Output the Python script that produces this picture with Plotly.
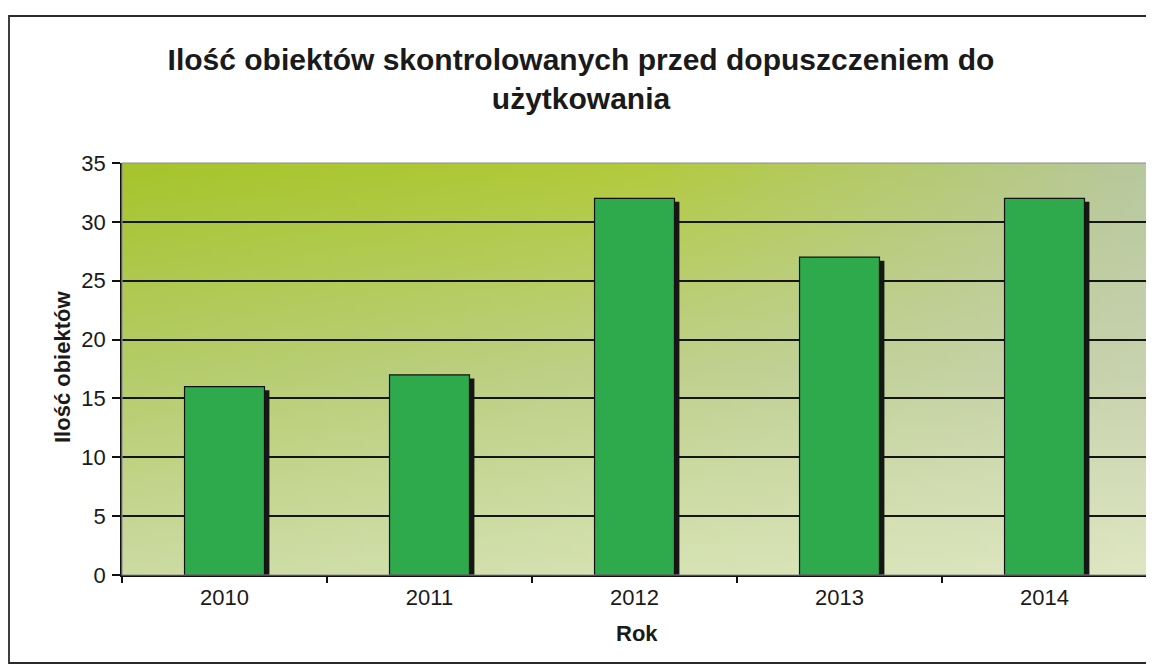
import base64
import struct
import zlib

import plotly.graph_objects as go

# ---------------- data ----------------
years = ["2010", "2011", "2012", "2013", "2014"]
counts = [16, 17, 32, 27, 32]
y_ticks = [0, 5, 10, 15, 20, 25, 30, 35]

title_text = "Ilość obiektów skontrolowanych przed dopuszczeniem do<br>użytkowania"
x_title = "Rok"
y_title = "Ilość obiektów"

# ---------------- layout geometry ----------------
# the page body adds an 8px margin, so the figure is 8px smaller and
# page positions are converted with OFF
OFF = 8
W, H = 1154 - OFF, 667 - OFF
ML = 122 - OFF
MT = 163 - OFF
MB = H - (575 - OFF)
MR = W - (1147 - OFF)
PW, PH = W - ML - MR, H - MT - MB

FONT = "Liberation Sans, Arial, sans-serif"

# 3x3 control colours for the plot-area gradient (rows: top->bottom, cols: left->right)
grad = [
    [(166, 196, 44), (178, 202, 60), (184, 200, 158)],
    [(180, 204, 104), (190, 208, 138), (200, 210, 176)],
    [(204, 218, 162), (214, 226, 178), (222, 230, 194)],
]


def lerp(a, b, t):
    return tuple(a[i] + (b[i] - a[i]) * t for i in range(3))


def colour_at(u, v):
    gx = u * 2
    gy = v * 2
    ix = min(int(gx), 1)
    iy = min(int(gy), 1)
    fx = gx - ix
    fy = gy - iy
    top = lerp(grad[iy][ix], grad[iy][ix + 1], fx)
    bot = lerp(grad[iy + 1][ix], grad[iy + 1][ix + 1], fx)
    c = lerp(top, bot, fy)
    return tuple(int(round(max(0, min(255, x)))) for x in c)


def make_png(w, h):
    rows = []
    for j in range(h):
        row = bytearray([0])
        for i in range(w):
            row.extend(colour_at(i / (w - 1), j / (h - 1)))
        rows.append(bytes(row))
    raw = b"".join(rows)

    def chunk(tag, data):
        c = struct.pack(">I", len(data)) + tag + data
        return c + struct.pack(">I", zlib.crc32(tag + data) & 0xFFFFFFFF)

    png = b"\x89PNG\r\n\x1a\n"
    png += chunk(b"IHDR", struct.pack(">IIBBBBB", w, h, 8, 2, 0, 0, 0))
    png += chunk(b"IDAT", zlib.compress(raw, 9))
    png += chunk(b"IEND", b"")
    return "data:image/png;base64," + base64.b64encode(png).decode()


bg_src = make_png(120, 60)

bar_w = 0.39
shadow_dx = 0.024
shadow_drop = 0.3

fig = go.Figure()

# shadow of the bars
fig.add_trace(go.Bar(
    x=years,
    y=[c - shadow_drop for c in counts],
    width=bar_w,
    offset=-bar_w / 2 + shadow_dx,
    marker=dict(color="#161616", line=dict(width=0)),
    hoverinfo="skip",
    showlegend=False,
))

# main bars
fig.add_trace(go.Bar(
    x=years,
    y=counts,
    width=bar_w,
    offset=-bar_w / 2,
    marker=dict(color="#2ea94b", line=dict(color="#111111", width=1.2)),
    showlegend=False,
))


def px_x(p):
    """page x pixel -> paper fraction"""
    return (p - OFF - ML) / PW


def px_y(p):
    """page y pixel -> paper fraction"""
    return (H - MB - (p - OFF)) / PH


fig.update_layout(
    width=W,
    height=H,
    margin=dict(l=ML, r=MR, t=MT, b=MB),
    paper_bgcolor="white",
    plot_bgcolor="rgba(0,0,0,0)",
    barmode="overlay",
    font=dict(family=FONT, color="#1a1a1a", size=22),
    title=dict(
        text=title_text,
        font=dict(family=FONT, size=30, color="#1a1a1a", weight="bold"),
        x=px_x(581),
        xref="paper",
        xanchor="center",
        y=1 - (70 - OFF) / H,
        yref="container",
        yanchor="middle",
    ),
    xaxis=dict(
        type="category",
        range=[-0.5, 4.5],
        showline=True,
        linecolor="#111111",
        linewidth=1.5,
        ticks="outside",
        tickson="boundaries",
        ticklen=6,
        tickcolor="#111111",
        tickwidth=1.5,
        tickfont=dict(size=22, color="#1a1a1a"),
        ticklabelstandoff=2,
        showgrid=False,
        zeroline=False,
    ),
    yaxis=dict(
        range=[0, 35],
        tickvals=y_ticks,
        showline=True,
        linecolor="#111111",
        linewidth=1.5,
        ticks="outside",
        ticklen=8,
        tickcolor="#111111",
        tickwidth=1.5,
        tickfont=dict(size=22, color="#1a1a1a"),
        ticklabelstandoff=2,
        showgrid=True,
        gridcolor="#151515",
        gridwidth=1.5,
        zeroline=False,
    ),
    images=[dict(
        source=bg_src,
        xref="paper", yref="paper",
        x=0, y=1, sizex=1, sizey=1,
        xanchor="left", yanchor="top",
        sizing="stretch",
        layer="below",
    )],
    shapes=[
        # plot-area border (grey)
        dict(type="rect", xref="paper", yref="paper", x0=0, y0=0, x1=1, y1=1,
             line=dict(color="#8e8e8e", width=1.2), fillcolor="rgba(0,0,0,0)", layer="above"),
        # outer chart border (right edge falls outside the page)
        dict(type="rect", xref="paper", yref="paper",
             x0=px_x(9), x1=px_x(1175), y0=px_y(663), y1=px_y(16),
             line=dict(color="#2a2a2a", width=1.8), fillcolor="rgba(0,0,0,0)"),
    ],
    annotations=[
        dict(text=x_title, xref="paper", yref="paper", x=px_x(637), y=px_y(633),
             showarrow=False, xanchor="center", yanchor="middle",
             font=dict(family=FONT, size=22, color="#1a1a1a", weight="bold")),
        dict(text=y_title, xref="paper", yref="paper", x=px_x(62), y=px_y(367),
             showarrow=False, xanchor="center", yanchor="middle", textangle=-90,
             font=dict(family=FONT, size=22, color="#1a1a1a", weight="bold")),
    ],
)

fig.write_html("out.html")
